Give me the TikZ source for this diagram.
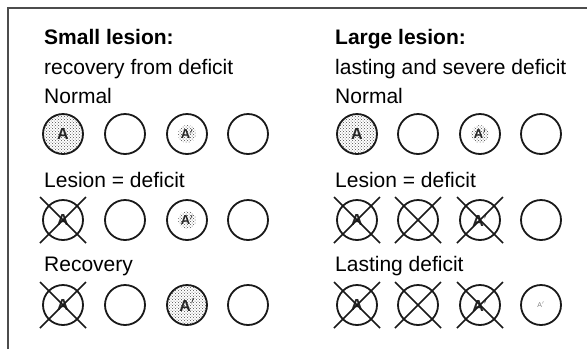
\documentclass[tikz,border=0pt]{standalone}
\usepackage{fontspec}
\setmainfont{Liberation Sans}
\usetikzlibrary{patterns}

\begin{document}
\begin{tikzpicture}[x=1pt,y=-1pt,
  cell/.style={circle, draw=black!90, line width=1.8pt, minimum size=40pt, inner sep=0pt,
    font=\fontsize{16}{16}\selectfont\bfseries, text=black!85},
  stip/.style={pattern=crosshatch dots, pattern color=black!70},
  part/.style={font=\fontsize{13}{13}\selectfont\bfseries,
    path picture={\fill[pattern=crosshatch dots, pattern color=black!70]
      (path picture bounding box.center) circle (9pt);}},
  lbl/.style={anchor=base west, inner sep=0pt, font=\fontsize{21}{24}\selectfont},
  ttl/.style={lbl, font=\fontsize{21}{24}\selectfont\bfseries},
  xout/.style={line width=1.7pt, black!90}]
\useasboundingbox (0,0) rectangle (587,349);
\draw[line width=1.2pt, black!70] (8,349) -- (8,8) -- (587,8);

% small lesion
\node[ttl] (lt) at (44,44) {Small lesion:};
\node[lbl] (ls) at (44,74) {recovery from deficit};
\node[lbl] (ln) at (44,103) {Normal};
\node[cell, stip] (l11) at (63,134) {A};
\node[cell] (l12) at (125,134) {};
\node[cell, part] (l13) at (187,134) {A$'$};
\node[cell] (l14) at (248,134) {};
\node[lbl] (ld) at (44,187) {Lesion = deficit};
\node[cell] (l21) at (63,220) {A};
\node[cell] (l22) at (125,220) {};
\node[cell, part] (l23) at (187,220) {A$'$};
\node[cell] (l24) at (248,220) {};
\node[lbl] (lr) at (44,271) {Recovery};
\node[cell] (l31) at (63,305) {A};
\node[cell] (l32) at (125,305) {};
\node[cell, stip] (l33) at (187,305) {A$'$};
\node[cell] (l34) at (248,305) {};

% large lesion
\node[ttl] (rt) at (335,44) {Large lesion:};
\node[lbl] (rs) at (335,74) {lasting and severe deficit};
\node[lbl] (rn) at (335,103) {Normal};
\node[cell, stip] (r11) at (357,134) {A};
\node[cell] (r12) at (418,134) {};
\node[cell, part] (r13) at (480,134) {A$'$};
\node[cell] (r14) at (541,134) {};
\node[lbl] (rd) at (335,187) {Lesion = deficit};
\node[cell] (r21) at (357,220) {A};
\node[cell] (r22) at (418,220) {};
\node[cell] (r23) at (480,220) {A$'$};
\node[cell] (r24) at (541,220) {};
\node[lbl] (rl) at (335,271) {Lasting deficit};
\node[cell] (r31) at (357,305) {A};
\node[cell] (r32) at (418,305) {};
\node[cell] (r33) at (480,305) {A$'$};
\node[cell, font=\fontsize{7}{7}\selectfont, text=black!50] (r34) at (541,305) {A$'$};

\foreach \n in {l21,l31,r21,r22,r23,r31,r32,r33} {
  \draw[xout] ([shift={(-23,-23)}]\n.center) -- ([shift={(23,23)}]\n.center);
  \draw[xout] ([shift={(-23,23)}]\n.center) -- ([shift={(23,-23)}]\n.center);
}
\end{tikzpicture}
\end{document}
